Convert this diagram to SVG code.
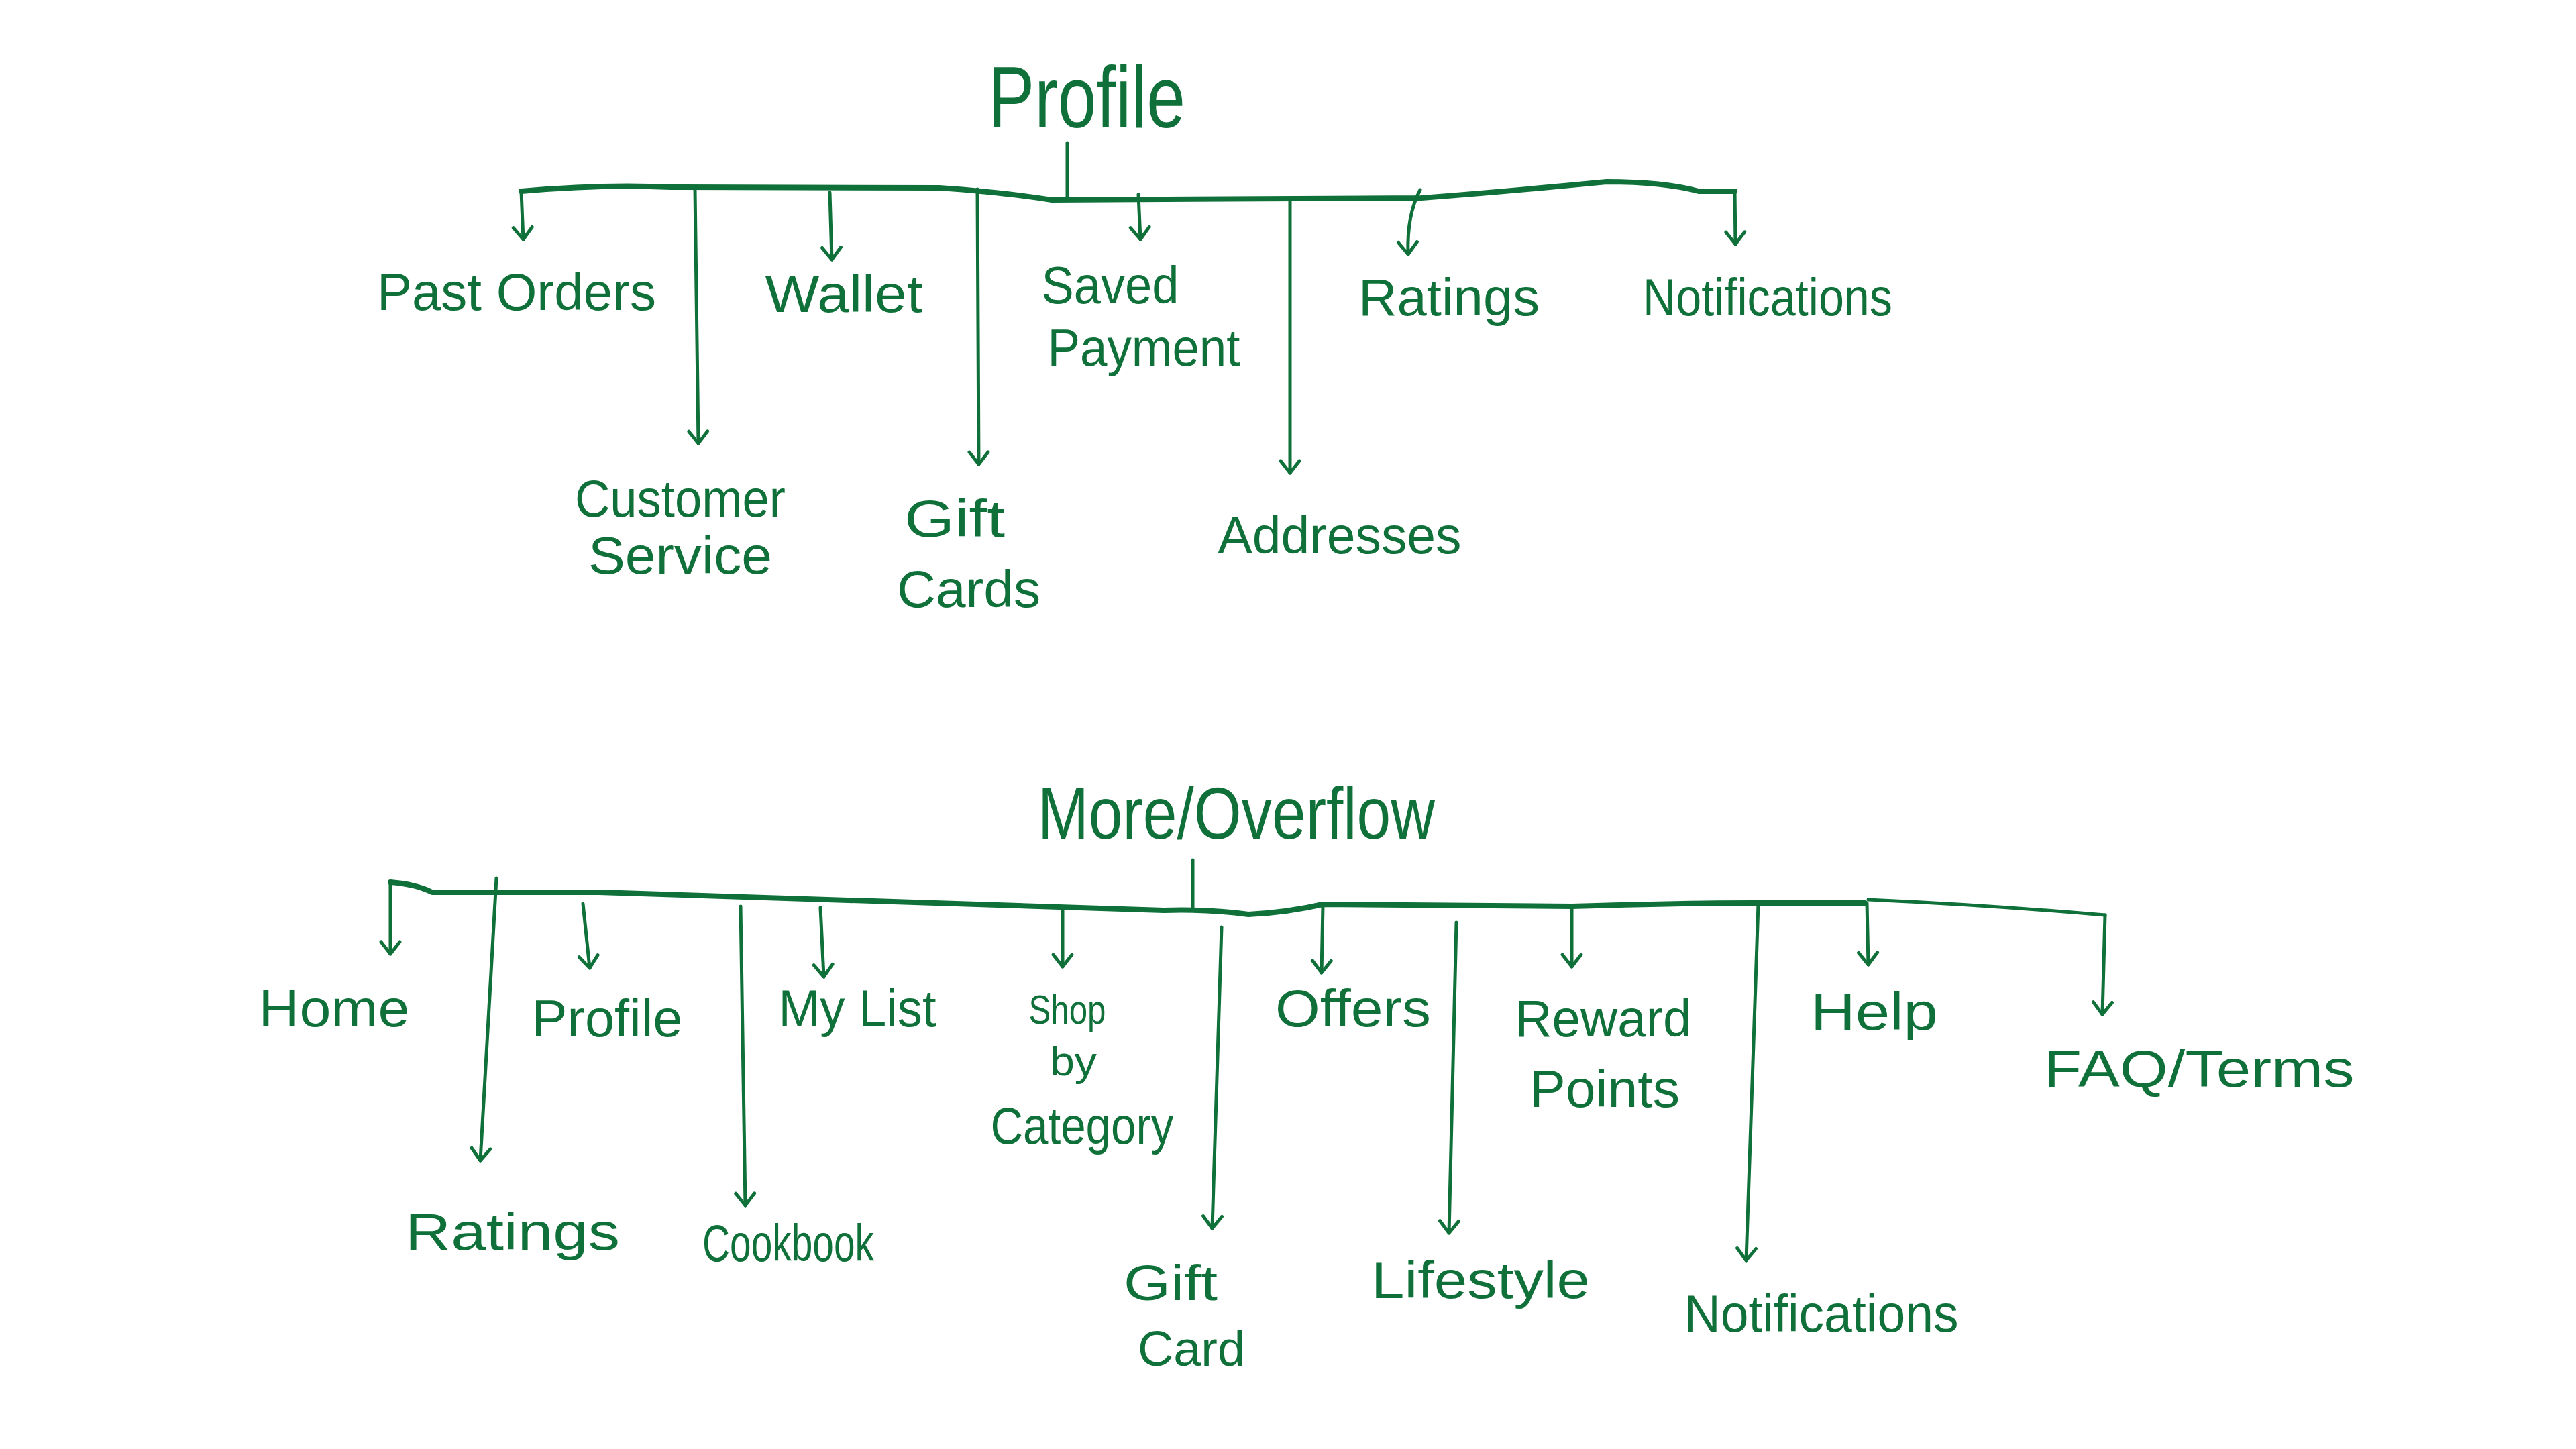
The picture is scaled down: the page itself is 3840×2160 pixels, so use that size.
<svg xmlns="http://www.w3.org/2000/svg" width="3840" height="2160" viewBox="0 0 3840 2160">
<style>
  .t { font-family: "Liberation Sans", "DejaVu Sans", sans-serif; fill: #0f7139; text-anchor: middle; }
  .lbl { font-size: 78px; }
  .root { font-size: 130px; }
  .bar { fill: none; stroke: #0f7139; stroke-width: 8; stroke-linecap: round; stroke-linejoin: round; }
  .ln { fill: none; stroke: #0f7139; stroke-width: 5; stroke-linecap: round; stroke-linejoin: round; }
  .arr { marker-end: url(#v); }
</style>
<defs>
  <marker id="v" markerUnits="userSpaceOnUse" markerWidth="40" markerHeight="40" refX="26" refY="20" orient="auto" viewBox="0 0 40 40">
    <path d="M8,6 L26,20 L8,34" fill="none" stroke="#0f7139" stroke-width="5" stroke-linecap="round" stroke-linejoin="round"/>
  </marker>
</defs>
<rect width="3840" height="2160" fill="#ffffff"/>

<g id="connectors">
  <!-- top tree -->
  <path class="bar" d="M777 285 Q900 274 1000 279 L1400 280 Q1500 287 1568 298 L2119 295 Q2250 285 2395 271 Q2480 271 2532 285 L2586 285"/>
  <path class="ln" d="M1591 213 L1591 297"/>
  <path class="ln arr" d="M777 285 L780 357"/>
  <path class="ln arr" d="M1036 282 L1041 661"/>
  <path class="ln arr" d="M1237 287 L1240 387"/>
  <path class="ln arr" d="M1457 282 L1459 692"/>
  <path class="ln arr" d="M1697 290 L1700 357"/>
  <path class="ln arr" d="M1923 297 L1923 705"/>
  <path class="ln arr" d="M2117 283 Q2097 320 2099 379"/>
  <path class="ln arr" d="M2586 285 L2587 364"/>
  <!-- bottom tree -->
  <path class="bar" d="M582 1315 Q620 1318 644 1330 L893 1330 Q1300 1342 1735 1357 Q1800 1355 1861 1363 Q1920 1360 1972 1348 L2343 1351 Q2500 1346 2611 1346 L2780 1346"/>
  <path class="ln" d="M2785 1341 Q2950 1348 3138 1364"/>
  <path class="ln" d="M1778 1282 L1778 1357"/>
  <path class="ln arr" d="M582 1315 L582 1422"/>
  <path class="ln arr" d="M740 1309 L716 1730"/>
  <path class="ln arr" d="M869 1347 L879 1443"/>
  <path class="ln arr" d="M1104 1351 L1111 1797"/>
  <path class="ln arr" d="M1223 1353 L1228 1456"/>
  <path class="ln arr" d="M1584 1352 L1584 1441"/>
  <path class="ln arr" d="M1821 1382 L1807 1831"/>
  <path class="ln arr" d="M1972 1350 L1970 1450"/>
  <path class="ln arr" d="M2171 1375 L2160 1838"/>
  <path class="ln arr" d="M2343 1351 L2343 1441"/>
  <path class="ln arr" d="M2621 1348 L2603 1879"/>
  <path class="ln arr" d="M2783 1346 L2785 1438"/>
  <path class="ln arr" d="M3138 1364 L3134 1512"/>
</g>

<!-- top tree nodes -->
<g id="profile-root"><text class="t root" x="1620" y="190" textLength="294" lengthAdjust="spacingAndGlyphs">Profile</text></g>
<g id="past-orders"><text class="t lbl" x="770" y="462" textLength="416" lengthAdjust="spacingAndGlyphs">Past Orders</text></g>
<g id="customer-service">
  <text class="t lbl" x="1014" y="770" textLength="314" lengthAdjust="spacingAndGlyphs">Customer</text>
  <text class="t lbl" x="1014" y="855" textLength="274" lengthAdjust="spacingAndGlyphs">Service</text>
</g>
<g id="wallet"><text class="t lbl" x="1258" y="465" textLength="235" lengthAdjust="spacingAndGlyphs">Wallet</text></g>
<g id="gift-cards">
  <text class="t lbl" x="1423" y="800" textLength="150" lengthAdjust="spacingAndGlyphs">Gift</text>
  <text class="t lbl" x="1444" y="905" textLength="214" lengthAdjust="spacingAndGlyphs">Cards</text>
</g>
<g id="saved-payment">
  <text class="t lbl" x="1655" y="452" textLength="205" lengthAdjust="spacingAndGlyphs">Saved</text>
  <text class="t lbl" x="1705" y="545" textLength="287" lengthAdjust="spacingAndGlyphs">Payment</text>
</g>
<g id="addresses"><text class="t lbl" x="1997" y="825" textLength="363" lengthAdjust="spacingAndGlyphs">Addresses</text></g>
<g id="ratings-top"><text class="t lbl" x="2160" y="470" textLength="270" lengthAdjust="spacingAndGlyphs">Ratings</text></g>
<g id="notifications-top"><text class="t lbl" x="2635" y="470" textLength="372" lengthAdjust="spacingAndGlyphs">Notifications</text></g>

<!-- bottom tree nodes -->
<g id="more-overflow"><text class="t" style="font-size:110px" x="1843" y="1250" textLength="592" lengthAdjust="spacingAndGlyphs">More/Overflow</text></g>
<g id="home"><text class="t lbl" x="498" y="1530" textLength="225" lengthAdjust="spacingAndGlyphs">Home</text></g>
<g id="ratings-bottom"><text class="t lbl" x="764" y="1863" textLength="320" lengthAdjust="spacingAndGlyphs">Ratings</text></g>
<g id="profile"><text class="t lbl" x="905" y="1545" textLength="225" lengthAdjust="spacingAndGlyphs">Profile</text></g>
<g id="cookbook"><text class="t lbl" x="1175" y="1880" textLength="256" lengthAdjust="spacingAndGlyphs">Cookbook</text></g>
<g id="my-list"><text class="t lbl" x="1278" y="1530" textLength="235" lengthAdjust="spacingAndGlyphs">My List</text></g>
<g id="shop-by-category">
  <text class="t" style="font-size:62px" x="1591" y="1526" textLength="115" lengthAdjust="spacingAndGlyphs">Shop</text>
  <text class="t" style="font-size:62px" x="1600" y="1603" textLength="70" lengthAdjust="spacingAndGlyphs">by</text>
  <text class="t lbl" x="1613" y="1705" textLength="273" lengthAdjust="spacingAndGlyphs">Category</text>
</g>
<g id="gift-card">
  <text class="t" style="font-size:74px" x="1745" y="1938" textLength="140" lengthAdjust="spacingAndGlyphs">Gift</text>
  <text class="t" style="font-size:74px" x="1776" y="2036" textLength="160" lengthAdjust="spacingAndGlyphs">Card</text>
</g>
<g id="offers"><text class="t lbl" x="2017" y="1530" textLength="232" lengthAdjust="spacingAndGlyphs">Offers</text></g>
<g id="lifestyle"><text class="t lbl" x="2207" y="1935" textLength="326" lengthAdjust="spacingAndGlyphs">Lifestyle</text></g>
<g id="reward-points">
  <text class="t lbl" x="2390" y="1545" textLength="263" lengthAdjust="spacingAndGlyphs">Reward</text>
  <text class="t lbl" x="2392" y="1650" textLength="224" lengthAdjust="spacingAndGlyphs">Points</text>
</g>
<g id="notifications-bottom"><text class="t lbl" x="2715" y="1985" textLength="409" lengthAdjust="spacingAndGlyphs">Notifications</text></g>
<g id="help"><text class="t lbl" x="2794" y="1535" textLength="190" lengthAdjust="spacingAndGlyphs">Help</text></g>
<g id="faq-terms"><text class="t lbl" x="3278" y="1620" textLength="463" lengthAdjust="spacingAndGlyphs">FAQ/Terms</text></g>
</svg>
